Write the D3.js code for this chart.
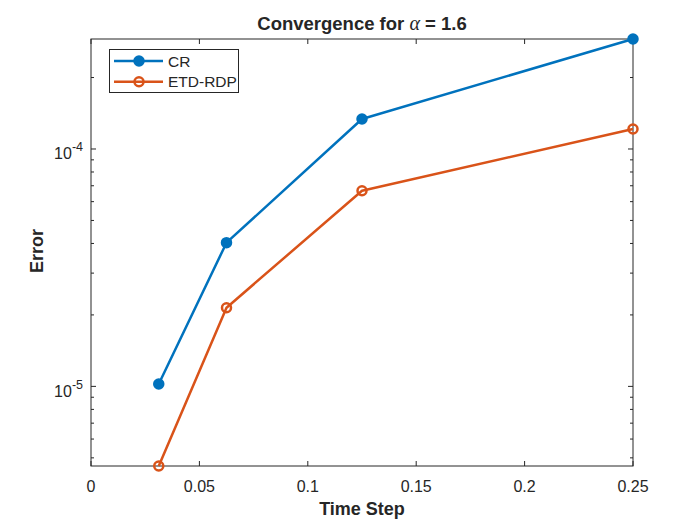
<!DOCTYPE html>
<html>
<head>
<meta charset="utf-8">
<script src="https://cdn.jsdelivr.net/npm/d3@7"></script>
<style>
  body { margin: 0; background: #fff; }
  text { font-family: "Liberation Sans", Arial, sans-serif; fill: #262626; }
</style>
</head>
<body>
<svg id="svg"></svg>
<script>
////////////////////////////////////////////////////////////////////////
// Data

let timeSteps = [0.03125, 0.0625, 0.125, 0.25];
let errCR = [1.023e-5, 4.03e-5, 1.338e-4, 2.906e-4];
let errETD = [4.62e-6, 2.145e-5, 6.67e-5, 1.214e-4];
let seriesNames = ["CR", "ETD-RDP"];
let xTicks = [0, 0.05, 0.1, 0.15, 0.2, 0.25];
let yTickExp = [-5, -4];

////////////////////////////////////////////////////////////////////////
// Layout

let width = 700, height = 525;
let box = { x1: 91, x2: 633, y1: 39, y2: 466 };
let axisColor = "#262626";
let colors = ["#0072BD", "#D95319"];

let svg = d3.select("#svg").attr("width", width).attr("height", height);

let xScale = d3.scaleLinear().domain([0, 0.25]).range([box.x1, box.x2]);
let yScale = d3.scaleLog()
               .domain([d3.min(errETD), d3.max(errCR)])
               .range([box.y2, box.y1]);

// x ticks, bottom and top (pointing inward)
let gx = svg.append("g");
xTicks.forEach(function(t) {
  let px = xScale(t);
  gx.append("line").attr("x1", px).attr("x2", px)
    .attr("y1", box.y2).attr("y2", box.y2 - 5)
    .attr("stroke", axisColor);
  gx.append("line").attr("x1", px).attr("x2", px)
    .attr("y1", box.y1).attr("y2", box.y1 + 5)
    .attr("stroke", axisColor);
  gx.append("text").attr("x", px).attr("y", box.y2 + 25.5)
    .attr("text-anchor", "middle").attr("font-size", 16)
    .text(d3.format("")(t));
});

// y ticks: log minor ticks and majors, left and right
let gy = svg.append("g");
let yDom = yScale.domain();
for (let e = -6; e <= -3; ++e) {
  for (let m = 1; m <= 9; ++m) {
    let v = m * Math.pow(10, e);
    if (v < yDom[0] || v > yDom[1]) continue;
    let py = yScale(v);
    let len = (m == 1) ? 5 : 3;
    gy.append("line").attr("x1", box.x1).attr("x2", box.x1 + len)
      .attr("y1", py).attr("y2", py).attr("stroke", axisColor);
    gy.append("line").attr("x1", box.x2).attr("x2", box.x2 - len)
      .attr("y1", py).attr("y2", py).attr("stroke", axisColor);
  }
}
yTickExp.forEach(function(e) {
  let py = yScale(Math.pow(10, e));
  let t = gy.append("text").attr("x", box.x1 - 8).attr("y", py + 10.5)
            .attr("text-anchor", "end").attr("font-size", 16);
  t.append("tspan").text("10");
  t.append("tspan").attr("dy", -8).attr("font-size", 12.5).text(String(e));
});

// box
svg.append("rect")
   .attr("x", box.x1).attr("y", box.y1)
   .attr("width", box.x2 - box.x1).attr("height", box.y2 - box.y1)
   .attr("fill", "none").attr("stroke", axisColor).attr("stroke-width", 1);

// series
let line = d3.line()
             .x(function(d) { return xScale(d[0]); })
             .y(function(d) { return yScale(d[1]); });

let series = [d3.zip(timeSteps, errCR), d3.zip(timeSteps, errETD)];

series.forEach(function(pts, i) {
  svg.append("path").datum(pts)
     .attr("d", line).attr("fill", "none")
     .attr("stroke", colors[i]).attr("stroke-width", 2.5)
     .attr("stroke-linejoin", "round");
  svg.selectAll(null).data(pts).enter().append("circle")
     .attr("cx", function(d) { return xScale(d[0]); })
     .attr("cy", function(d) { return yScale(d[1]); })
     .attr("r", 4.5)
     .attr("fill", i == 0 ? colors[i] : "none")
     .attr("stroke", colors[i]).attr("stroke-width", 2.5);
});

// legend
let lg = svg.append("g");
lg.append("rect").attr("x", 109.5).attr("y", 49.5)
  .attr("width", 129).attr("height", 43)
  .attr("fill", "#fff").attr("stroke", axisColor).attr("stroke-width", 1);
seriesNames.forEach(function(name, i) {
  let py = 61 + i * 20.8;
  lg.append("line").attr("x1", 114).attr("x2", 163)
    .attr("y1", py).attr("y2", py)
    .attr("stroke", colors[i]).attr("stroke-width", 2.5);
  lg.append("circle").attr("cx", 139).attr("cy", py).attr("r", 4.5)
    .attr("fill", i == 0 ? colors[i] : "none")
    .attr("stroke", colors[i]).attr("stroke-width", 2.5);
  lg.append("text").attr("x", 168).attr("y", py + 5.5)
    .attr("font-size", 15.5).text(name);
});

// title and labels
let title = svg.append("text").attr("x", (box.x1 + box.x2) / 2).attr("y", 30)
               .attr("text-anchor", "middle").attr("font-size", 18.5)
               .attr("font-weight", "bold");
title.append("tspan").text("Convergence for ");
title.append("tspan").attr("font-family", "'Liberation Serif', 'DejaVu Serif', serif")
     .attr("font-style", "italic").attr("font-weight", "normal")
     .attr("font-size", 20).text("\u03b1");
title.append("tspan").text(" = 1.6");

svg.append("text").attr("x", (box.x1 + box.x2) / 2).attr("y", 515)
   .attr("text-anchor", "middle").attr("font-size", 18)
   .attr("font-weight", "bold").text("Time Step");

svg.append("text")
   .attr("transform", "translate(43," + ((box.y1 + box.y2) / 2 - 1.5) + ") rotate(-90)")
   .attr("text-anchor", "middle").attr("font-size", 18)
   .attr("font-weight", "bold").text("Error");
</script>
</body>
</html>
